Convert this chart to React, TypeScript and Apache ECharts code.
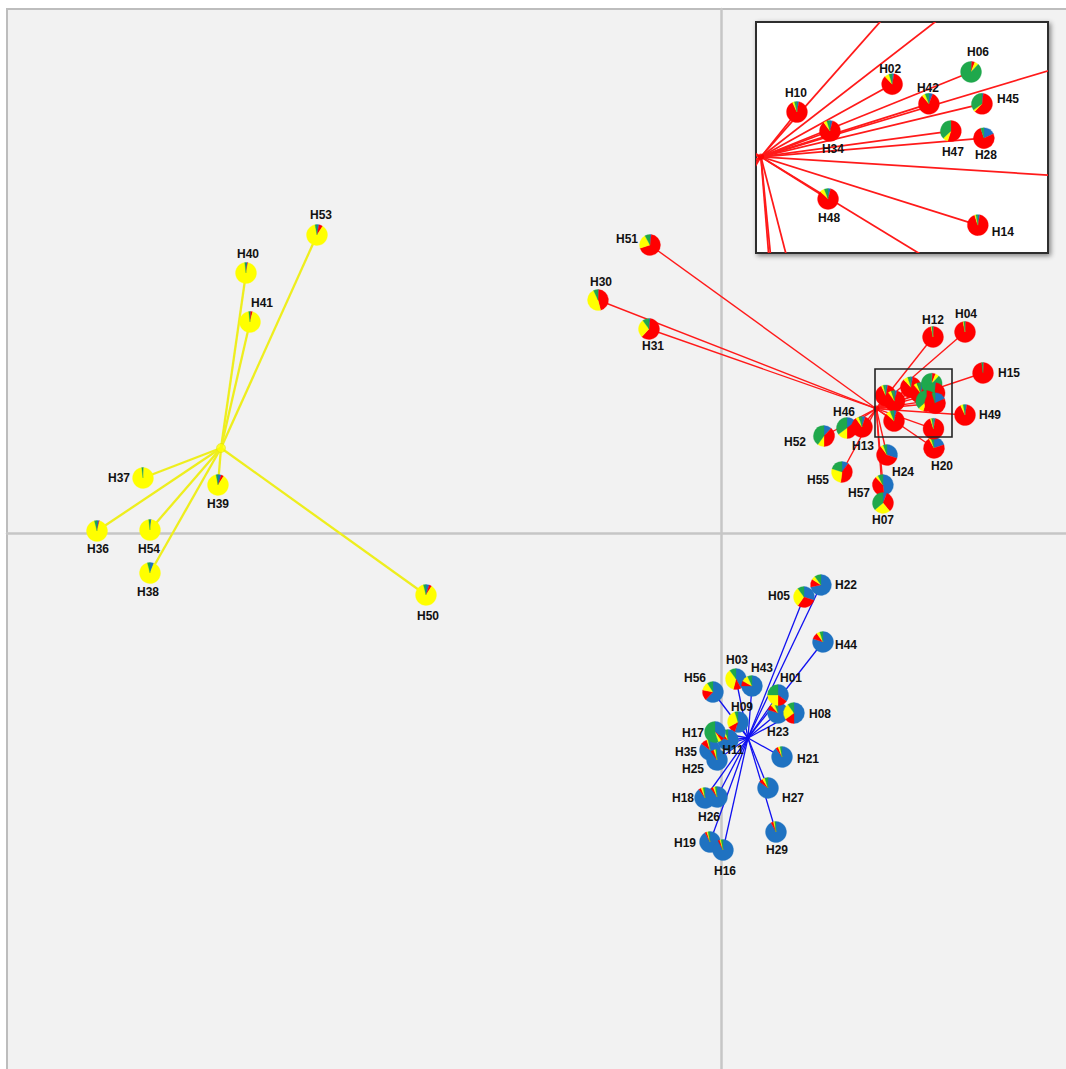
import React, { useEffect, useRef } from 'react';
import * as echarts from 'echarts';

// ---------------- DATA ----------------
const haplotypes = [
  'H53', 'H40', 'H41', 'H37', 'H39', 'H36', 'H54', 'H38', 'H50',
  'H51', 'H30', 'H31', 'H12', 'H04', 'H15', 'H49', 'H46', 'H13', 'H52', 'H55', 'H24', 'H20', 'H57', 'H07',
  'H10', 'H34', 'H02', 'H42', 'H06', 'H45', 'H47', 'H28', 'H48', 'H14',
  'H22', 'H05', 'H44', 'H56', 'H03', 'H43', 'H23', 'H01', 'H08', 'H09', 'H11', 'H35', 'H25', 'H17', 'H21', 'H27', 'H18', 'H26', 'H29', 'H19', 'H16',
];
const cluster = [
  'Y', 'Y', 'Y', 'Y', 'Y', 'Y', 'Y', 'Y', 'Y',
  'R', 'R', 'R', 'R', 'R', 'R', 'R', 'R', 'R', 'R', 'R', 'R', 'R', 'R', 'R',
  'R', 'R', 'R', 'R', 'R', 'R', 'R', 'R', 'R', 'R',
  'B', 'B', 'B', 'B', 'B', 'B', 'B', 'B', 'B', 'B', 'B', 'B', 'B', 'B', 'B', 'B', 'B', 'B', 'B', 'B', 'B',
];
const pcX = [
  -4.04, -4.75, -4.71, -5.78, -5.03, -6.24, -5.71, -5.71, -2.95,
  -0.71, -1.23, -0.72, 2.12, 2.44, 2.62, 2.44, 1.26, 1.41, 1.03, 1.21, 1.66, 2.13, 1.62, 1.62,
  1.648, 1.735, 1.899, 1.996, 2.107, 2.136, 2.054, 2.141, 1.73, 2.125,
  1.0, 0.83, 1.02, -0.08, 0.15, 0.31, 0.57, 0.57, 0.73, 0.17, 0.07, -0.11, -0.04, -0.06, 0.61, 0.47, -0.16, -0.04, 0.55, -0.11, 0.02,
];
const pcY = [
  2.98, 2.6, 2.11, 0.55, 0.48, 0.02, 0.03, -0.4, -0.62,
  2.88, 2.33, 2.04, 1.96, 2.01, 1.6, 1.18, 1.05, 1.06, 0.97, 0.61, 0.78, 0.85, 0.48, 0.3,
  1.375, 1.319, 1.457, 1.399, 1.493, 1.399, 1.319, 1.298, 1.119, 1.042,
  -0.52, -0.64, -1.09, -1.59, -1.46, -1.53, -1.8, -1.62, -1.8, -1.89, -2.07, -2.17, -2.27, -1.99, -2.24, -2.55, -2.65, -2.64, -2.99, -3.09, -3.17,
];
// ancestry proportions (blue, red, yellow, green)
const fracBlue = [
  0.03, 0.02, 0.01, 0.01, 0.05, 0.03, 0.02, 0.06, 0.05,
  0.02, 0.01, 0.02, 0.01, 0.01, 0.01, 0.03, 0.15, 0.05, 0.12, 0.1, 0.3, 0.2, 0.48, 0.06,
  0.03, 0.04, 0.03, 0.06, 0.01, 0.02, 0.0, 0.18, 0.04, 0.03,
  0.72, 0.3, 0.8, 0.62, 0.42, 0.75, 0.8, 0.35, 0.5, 0.55, 0.8, 0.85, 0.9, 0.35, 0.9, 0.85, 0.9, 0.9, 0.92, 0.92, 0.92,
];
const fracRed = [
  0.06, 0.01, 0.03, 0.0, 0.04, 0.01, 0.0, 0.0, 0.04,
  0.68, 0.45, 0.6, 0.96, 0.96, 0.97, 0.9, 0.35, 0.85, 0.38, 0.42, 0.6, 0.72, 0.4, 0.33,
  0.9, 0.86, 0.85, 0.83, 0.05, 0.6, 0.55, 0.77, 0.83, 0.92,
  0.12, 0.3, 0.1, 0.16, 0.12, 0.08, 0.08, 0.15, 0.15, 0.12, 0.1, 0.1, 0.05, 0.05, 0.04, 0.06, 0.04, 0.04, 0.04, 0.03, 0.03,
];
const fracYellow = [
  0.88, 0.95, 0.94, 0.97, 0.88, 0.92, 0.96, 0.9, 0.87,
  0.22, 0.47, 0.28, 0.01, 0.01, 0.0, 0.04, 0.15, 0.05, 0.1, 0.28, 0.04, 0.03, 0.04, 0.25,
  0.03, 0.05, 0.07, 0.05, 0.06, 0.03, 0.08, 0.0, 0.07, 0.02,
  0.06, 0.3, 0.05, 0.13, 0.36, 0.1, 0.06, 0.25, 0.25, 0.28, 0.05, 0.02, 0.03, 0.05, 0.03, 0.04, 0.03, 0.03, 0.02, 0.02, 0.02,
];
const fracGreen = [
  0.03, 0.02, 0.02, 0.02, 0.03, 0.04, 0.02, 0.04, 0.04,
  0.08, 0.07, 0.1, 0.02, 0.02, 0.02, 0.03, 0.35, 0.05, 0.4, 0.2, 0.06, 0.05, 0.08, 0.36,
  0.04, 0.05, 0.05, 0.06, 0.88, 0.35, 0.37, 0.05, 0.06, 0.03,
  0.1, 0.1, 0.05, 0.09, 0.1, 0.07, 0.06, 0.25, 0.1, 0.05, 0.05, 0.03, 0.02, 0.55, 0.03, 0.05, 0.03, 0.03, 0.02, 0.03, 0.03,
];
const centroidCluster = ['Y', 'R', 'B'];
const centroidX = [-5.0, 1.553, 0.27];
const centroidY = [0.85, 1.243, -2.05];
// haplotypes shown enlarged in the inset
const insetHaplotypes = ['H10', 'H34', 'H02', 'H42', 'H06', 'H45', 'H47', 'H28', 'H48', 'H14'];
// zoom window [xMin, xMax, yMin, yMax]
const zoomBox = [1.54, 2.31, 0.96, 1.64];
// main axes ranges
const mainX = [-7.14, 3.49];
const mainY = [-5.4, 5.24];

// ---------------- STYLE ----------------
const sliceColors = ['#1F72C1', '#FF0000', '#FFFF00', '#1FA84C'];
const lineColor: Record<string, string> = { Y: '#EEEE1E', R: '#FF1A1A', B: '#1010F0' };
const lineWidth: Record<string, number> = { Y: 2.3, R: 1.4, B: 1.3 };
const dotColor: Record<string, string> = { Y: '#FFFF00', R: '#FF0000', B: '#1010F0' };
const dotSize: Record<string, number> = { Y: 9, R: 6, B: 3 };
const PIE_R = 10.5;
const labelOffset: Record<string, [number, number]> = {
  H53: [4, -20], H40: [2, -19], H41: [12, -19], H37: [-24, 0], H39: [0, 19], H36: [1, 18], H54: [-1, 19], H38: [-2, 19], H50: [2, 21],
  H51: [-23, -6], H30: [3, -18], H31: [4, 17], H12: [0, -17], H04: [1, -18], H15: [26, 0], H49: [25, 0], H46: [-3, -16], H13: [1, 19],
  H52: [-29, 6], H55: [-24, 8], H24: [16, 17], H20: [8, 18], H57: [-24, 8], H07: [0, 17],
  H22: [25, 0], H05: [-25, -1], H44: [23, 3], H56: [-18, -14], H03: [1, -19], H43: [10, -18], H01: [13, -17], H08: [26, 1], H23: [0, 19],
  H09: [4, -15], H17: [-22, 1], H11: [5, 10], H35: [-24, 2], H25: [-24, 9], H21: [26, 2], H27: [25, 10], H18: [-22, 0], H26: [-8, 20],
  H29: [1, 18], H19: [-25, 1], H16: [2, 21],
};
const insetLabelOffset: Record<string, [number, number]> = {
  H10: [-1, -19], H02: [-2, -15], H06: [7, -20], H42: [-1, -16], H45: [26, -5], H34: [3, 18], H47: [2, 21], H28: [2, 17], H48: [1, 19], H14: [25, 7],
};
const FONT = 'bold 12px "Liberation Sans", Arial, sans-serif';

function pieGroup(c: number[], i: number) {
  const fr = [fracBlue[i], fracRed[i], fracYellow[i], fracGreen[i]];
  const total = fr.reduce((a, b) => a + b, 0);
  let acc = 0;
  const children: any[] = [];
  fr.forEach((f, j) => {
    if (f <= 0) return;
    const s = -Math.PI / 2 + (acc / total) * Math.PI * 2;
    acc += f;
    const e = -Math.PI / 2 + (acc / total) * Math.PI * 2;
    children.push({
      type: 'sector',
      shape: { cx: c[0], cy: c[1], r: PIE_R, r0: 0, startAngle: s, endAngle: e, clockwise: true },
      style: { fill: sliceColors[j], stroke: sliceColors[j], lineWidth: 0.3 },
    });
  });
  return { type: 'group', children };
}

export default function App() {
  const ref = useRef<HTMLDivElement>(null);
  useEffect(() => {
    const chart = echarts.init(ref.current!, undefined, { renderer: 'svg' });

    const allIdx = haplotypes.map((_, i) => i);
    const redIdx = allIdx.filter((i) => cluster[i] === 'R');
    const insetIdx = allIdx.filter((i) => insetHaplotypes.includes(haplotypes[i]));
    const mainLabelIdx = allIdx.filter((i) => !insetHaplotypes.includes(haplotypes[i]));

    const lineData = (idx: number[]) =>
      idx.map((i) => {
        const k = centroidCluster.indexOf(cluster[i]);
        return [centroidX[k], centroidY[k], pcX[i], pcY[i]];
      });
    const lineRender = (idx: number[], widthScale: number) => (params: any, api: any) => {
      const a = api.coord([api.value(0), api.value(1)]);
      const b = api.coord([api.value(2), api.value(3)]);
      const cl = cluster[idx[params.dataIndex]];
      return {
        type: 'line',
        shape: { x1: a[0], y1: a[1], x2: b[0], y2: b[1] },
        style: { stroke: lineColor[cl], lineWidth: lineWidth[cl] * widthScale },
      };
    };
    const pieRender = (idx: number[]) => (params: any, api: any) => {
      const c = api.coord([api.value(0), api.value(1)]);
      return pieGroup(c, idx[params.dataIndex]);
    };
    const labelRender = (idx: number[], offsets: Record<string, [number, number]>) => (params: any, api: any) => {
      const c = api.coord([api.value(0), api.value(1)]);
      const name = haplotypes[idx[params.dataIndex]];
      const off = offsets[name] || [0, 18];
      return {
        type: 'text',
        x: c[0] + off[0],
        y: c[1] + off[1],
        style: { text: name, font: FONT, fill: '#111', align: 'center', verticalAlign: 'middle' },
      };
    };
    const pts = (idx: number[]) => idx.map((i) => [pcX[i], pcY[i]]);

    const centroidData = centroidCluster.map((cl, k) => ({
      value: [centroidX[k], centroidY[k]],
      symbolSize: dotSize[cl],
      itemStyle: { color: dotColor[cl], borderColor: cl === 'Y' ? '#D8D800' : dotColor[cl], borderWidth: 0.5 },
    }));

    const option: any = {
      animation: false,
      backgroundColor: '#FFFFFF',
      grid: [
        {
          left: 7, top: 9, width: 1063, height: 1064, outerBoundsMode: 'none', containLabel: false,
          show: true, backgroundColor: '#F2F2F2', borderColor: '#BDBDBD', borderWidth: 2,
        },
        {
          left: 756, top: 22, width: 292, height: 231, outerBoundsMode: 'none', containLabel: false,
          show: true, backgroundColor: '#FFFFFF', borderColor: '#2E2E2E', borderWidth: 2,
          shadowBlur: 5, shadowColor: 'rgba(0,0,0,0.45)', shadowOffsetX: 2, shadowOffsetY: 2,
        },
      ],
      xAxis: [
        {
          gridIndex: 0, type: 'value', min: mainX[0], max: mainX[1],
          axisLine: { show: true, onZero: true, lineStyle: { color: '#C6C6C6', width: 2.5 } },
          axisTick: { show: false }, axisLabel: { show: false }, splitLine: { show: false },
        },
        { gridIndex: 1, type: 'value', min: zoomBox[0], max: zoomBox[1], show: false, splitLine: { show: false } },
      ],
      yAxis: [
        {
          gridIndex: 0, type: 'value', min: mainY[0], max: mainY[1],
          axisLine: { show: true, onZero: true, lineStyle: { color: '#C6C6C6', width: 2.5 } },
          axisTick: { show: false }, axisLabel: { show: false }, splitLine: { show: false },
        },
        { gridIndex: 1, type: 'value', min: zoomBox[2], max: zoomBox[3], show: false, splitLine: { show: false } },
      ],
      series: [
        // main plot
        {
          type: 'custom', xAxisIndex: 0, yAxisIndex: 0, z: 2, silent: true,
          dimensions: ['x1', 'y1', 'x2', 'y2'], encode: { x: [0, 2], y: [1, 3] },
          data: lineData(allIdx), renderItem: lineRender(allIdx, 1),
        },
        {
          type: 'scatter', xAxisIndex: 0, yAxisIndex: 0, z: 3, silent: true, symbol: 'circle',
          data: centroidData,
        },
        {
          type: 'custom', xAxisIndex: 0, yAxisIndex: 0, z: 4, silent: true,
          data: pts(allIdx), renderItem: pieRender(allIdx),
        },
        {
          type: 'custom', xAxisIndex: 0, yAxisIndex: 0, z: 5, silent: true,
          data: [[zoomBox[0], zoomBox[3], zoomBox[1], zoomBox[2]]],
          dimensions: ['x1', 'y1', 'x2', 'y2'], encode: { x: [0, 2], y: [1, 3] },
          renderItem: (params: any, api: any) => {
            const a = api.coord([api.value(0), api.value(1)]);
            const b = api.coord([api.value(2), api.value(3)]);
            return {
              type: 'rect',
              shape: { x: a[0], y: a[1], width: b[0] - a[0], height: b[1] - a[1] },
              style: { fill: 'none', stroke: '#222', lineWidth: 1.6 },
            };
          },
        },
        {
          type: 'custom', xAxisIndex: 0, yAxisIndex: 0, z: 6, silent: true,
          data: pts(mainLabelIdx), renderItem: labelRender(mainLabelIdx, labelOffset),
        },
        // inset
        {
          type: 'custom', xAxisIndex: 1, yAxisIndex: 1, z: 7, silent: true, clip: true,
          dimensions: ['x1', 'y1', 'x2', 'y2'], encode: { x: [0, 2], y: [1, 3] },
          data: lineData(redIdx), renderItem: lineRender(redIdx, 1.25),
        },
        {
          type: 'scatter', xAxisIndex: 1, yAxisIndex: 1, z: 8, silent: true, clip: true, symbol: 'circle',
          data: [centroidData[1]],
        },
        {
          type: 'custom', xAxisIndex: 1, yAxisIndex: 1, z: 9, silent: true, clip: true,
          data: pts(insetIdx), renderItem: pieRender(insetIdx),
        },
        {
          type: 'custom', xAxisIndex: 1, yAxisIndex: 1, z: 10, silent: true,
          data: pts(insetIdx), renderItem: labelRender(insetIdx, insetLabelOffset),
        },
      ],
    };
    chart.setOption(option);
    return () => chart.dispose();
  }, []);
  return (
    <div
      ref={ref}
      style={{ position: 'absolute', left: 0, top: 0, width: 1066, height: 1069, overflow: 'hidden' }}
    />
  );
}
